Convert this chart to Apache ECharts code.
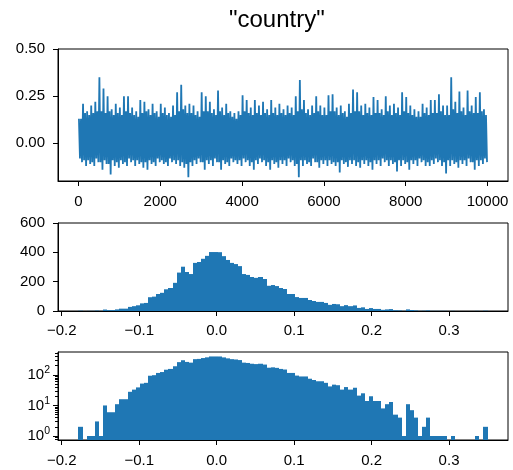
<!DOCTYPE html>
<html>
<head>
<meta charset="utf-8">
<script src="https://cdn.jsdelivr.net/npm/echarts@6/dist/echarts.min.js"></script>
<style>
  html, body { margin: 0; padding: 0; background: #fff; }
  #main { width: 513px; height: 470px; }
</style>
</head>
<body>
<div id="main"></div>
<script>
// trace: extreme and typical high / low draw in each block of 100 iterations
var traceHigh = [
  0.13, 0.21, 0.17, 0.20, 0.22, 0.35, 0.29, 0.25, 0.18, 0.21,
  0.19, 0.25, 0.25, 0.19, 0.17, 0.23, 0.22, 0.18, 0.21, 0.17,
  0.21, 0.19, 0.16, 0.20, 0.27, 0.31, 0.20, 0.21, 0.20, 0.17,
  0.27, 0.25, 0.22, 0.18, 0.28, 0.19, 0.21, 0.17, 0.16, 0.17,
  0.255, 0.23, 0.19, 0.23, 0.20, 0.22, 0.18, 0.23, 0.19, 0.21,
  0.18, 0.20, 0.19, 0.25, 0.335, 0.23, 0.18, 0.20, 0.25, 0.20,
  0.19, 0.255, 0.26, 0.19, 0.20, 0.17, 0.21, 0.285, 0.27, 0.20,
  0.21, 0.19, 0.245, 0.23, 0.18, 0.25, 0.20, 0.21, 0.19, 0.27,
  0.245, 0.20, 0.18, 0.17, 0.21, 0.19, 0.23, 0.23, 0.26, 0.20,
  0.20, 0.35, 0.22, 0.275, 0.19, 0.28, 0.20, 0.245, 0.27, 0.18
];
var traceLow = [
  -0.10, -0.12, -0.11, -0.12, -0.10, -0.14, -0.11, -0.165, -0.12, -0.13,
  -0.11, -0.12, -0.10, -0.12, -0.11, -0.13, -0.14, -0.11, -0.12, -0.10,
  -0.11, -0.12, -0.10, -0.11, -0.12, -0.13, -0.18, -0.12, -0.11, -0.10,
  -0.14, -0.11, -0.12, -0.10, -0.14, -0.11, -0.12, -0.10, -0.11, -0.12,
  -0.10, -0.12, -0.14, -0.11, -0.10, -0.12, -0.14, -0.11, -0.13, -0.11,
  -0.12, -0.10, -0.12, -0.18, -0.12, -0.11, -0.12, -0.10, -0.13, -0.11,
  -0.12, -0.11, -0.12, -0.155, -0.11, -0.125, -0.11, -0.12, -0.13, -0.11,
  -0.12, -0.14, -0.11, -0.12, -0.10, -0.12, -0.11, -0.15, -0.12, -0.11,
  -0.14, -0.11, -0.12, -0.10, -0.12, -0.12, -0.11, -0.10, -0.12, -0.16,
  -0.12, -0.11, -0.13, -0.11, -0.12, -0.10, -0.14, -0.12, -0.11, -0.10
];
var coreHigh = [
  0.13, 0.16, 0.15, 0.16, 0.17, 0.17, 0.16, 0.17, 0.15, 0.16,
  0.15, 0.17, 0.16, 0.15, 0.14, 0.16, 0.17, 0.15, 0.16, 0.14,
  0.16, 0.15, 0.14, 0.15, 0.17, 0.18, 0.16, 0.16, 0.15, 0.14,
  0.17, 0.17, 0.16, 0.15, 0.17, 0.15, 0.16, 0.14, 0.13, 0.15,
  0.17, 0.16, 0.15, 0.16, 0.15, 0.16, 0.15, 0.16, 0.15, 0.16,
  0.15, 0.16, 0.15, 0.17, 0.18, 0.16, 0.15, 0.16, 0.17, 0.15,
  0.15, 0.17, 0.17, 0.15, 0.16, 0.14, 0.16, 0.17, 0.17, 0.15,
  0.16, 0.15, 0.16, 0.16, 0.15, 0.17, 0.15, 0.16, 0.15, 0.17,
  0.16, 0.15, 0.14, 0.14, 0.16, 0.15, 0.16, 0.16, 0.17, 0.15,
  0.15, 0.18, 0.16, 0.17, 0.15, 0.17, 0.16, 0.16, 0.17, 0.15
];
var coreLow = [
  -0.08, -0.09, -0.09, -0.10, -0.08, -0.10, -0.09, -0.11, -0.09, -0.10,
  -0.09, -0.10, -0.08, -0.09, -0.09, -0.10, -0.10, -0.09, -0.10, -0.08,
  -0.09, -0.10, -0.08, -0.09, -0.09, -0.10, -0.11, -0.10, -0.09, -0.08,
  -0.10, -0.09, -0.09, -0.08, -0.10, -0.09, -0.10, -0.08, -0.09, -0.09,
  -0.08, -0.09, -0.10, -0.09, -0.08, -0.09, -0.10, -0.09, -0.10, -0.09,
  -0.09, -0.08, -0.09, -0.11, -0.09, -0.09, -0.10, -0.08, -0.10, -0.09,
  -0.09, -0.09, -0.10, -0.10, -0.09, -0.10, -0.09, -0.09, -0.10, -0.09,
  -0.09, -0.10, -0.09, -0.09, -0.08, -0.09, -0.09, -0.10, -0.09, -0.09,
  -0.10, -0.09, -0.09, -0.08, -0.09, -0.10, -0.09, -0.08, -0.09, -0.10,
  -0.09, -0.09, -0.10, -0.09, -0.09, -0.08, -0.10, -0.09, -0.09, -0.08
];
var blockSize = 100;
var iterTicks = [0, 2000, 4000, 6000, 8000, 10000];
var traceTicks = [0, 0.25, 0.5];

// histogram, 100 bins
var binStart = -0.1784;
var binWidth = 0.005281;
var binCounts = [
  2, 0, 1, 1, 3, 1, 10, 6, 6, 11,
  16, 16, 28, 33, 39, 52, 55, 94, 98, 116,
  124, 148, 157, 192, 262, 302, 266, 252, 328, 334,
  356, 376, 402, 402, 401, 374, 348, 328, 320, 306,
  252, 246, 232, 226, 232, 218, 172, 177, 170, 157,
  150, 116, 116, 95, 89, 89, 75, 68, 62, 62,
  55, 42, 48, 46, 33, 40, 33, 38, 21, 25,
  14, 20, 14, 14, 8, 11, 13, 5, 4, 1,
  11, 7, 4, 1, 2, 4, 1, 1, 1, 1,
  0, 1, 0, 0, 0, 0, 0, 1, 0, 2
];
var histTicks = [-0.2, -0.1, 0, 0.1, 0.2, 0.3];
var logTicks = [1, 10, 100];
var logMinorTicks = [0.8, 0.9, 2, 3, 4, 5, 6, 7, 8, 9, 20, 30, 40, 50, 60, 70, 80, 90, 200, 300, 400, 500];

var blue = '#1f77b4';
var font = 'Liberation Sans, Arial, sans-serif';

// four vertices per block so the line sweeps the band densely
var traceData = [];
traceHigh.forEach(function (h, i) {
  var x = i * blockSize;
  traceData.push([x + 12, h]);
  traceData.push([x + 37, coreLow[i]]);
  traceData.push([x + 62, coreHigh[i]]);
  traceData.push([x + 87, traceLow[i]]);
});

var histData = binCounts.map(function (c, i) {
  return [binStart + i * binWidth, binStart + (i + 1) * binWidth, c];
});
var histDataLog = histData.filter(function (d) { return d[2] > 0; });

function histBars(base) {
  return function (params, api) {
    var p0 = api.coord([api.value(0), api.value(2)]);
    var p1 = api.coord([api.value(1), base]);
    var x0 = Math.round(p0[0]), x1 = Math.round(p1[0]);
    return {
      type: 'rect',
      shape: { x: x0, y: p0[1], width: x1 - x0, height: p1[1] - p0[1] },
      style: { fill: blue }
    };
  };
}

function minusFmt(v) {
  return (v < -1e-9 ? '\u2212' : '') + Math.abs(v).toFixed(1);
}

var lbl = { color: '#000', fontSize: 15, fontFamily: font };
var axLine = { show: true, onZero: false, lineStyle: { color: '#000', width: 1 } };
var tick = { show: true, length: 5, lineStyle: { color: '#000', width: 1 } };
var gridBase = { show: true, borderColor: '#000', borderWidth: 1, left: 58, right: 5 };

var myChart = echarts.init(document.getElementById('main'));
var option = {
  animation: false,
  title: {
    text: '"country"',
    left: 224,
    top: 3,
    textStyle: { fontSize: 24, fontWeight: 'normal', color: '#000', fontFamily: font }
  },
  grid: [
    Object.assign({ top: 49, height: 132 }, gridBase),
    Object.assign({ top: 223, height: 88 }, gridBase),
    Object.assign({ top: 352, height: 88 }, gridBase)
  ],
  xAxis: [
    {
      gridIndex: 0, type: 'value', min: -500, max: 10500,
      axisLine: axLine, splitLine: { show: false },
      axisTick: Object.assign({ customValues: iterTicks }, tick),
      axisLabel: Object.assign({
        customValues: iterTicks, margin: 13,
        formatter: function (v) { return String(v); }
      }, lbl)
    },
    {
      gridIndex: 1, type: 'value', min: -0.2048, max: 0.3761,
      axisLine: axLine, splitLine: { show: false },
      axisTick: Object.assign({ customValues: histTicks }, tick),
      axisLabel: Object.assign({ customValues: histTicks, margin: 12, formatter: minusFmt }, lbl)
    },
    {
      gridIndex: 2, type: 'value', min: -0.2048, max: 0.3761,
      axisLine: axLine, splitLine: { show: false },
      axisTick: Object.assign({ customValues: histTicks }, tick),
      axisLabel: Object.assign({ customValues: histTicks, margin: 13, formatter: minusFmt }, lbl)
    }
  ],
  yAxis: [
    {
      gridIndex: 0, type: 'value', min: -0.2, max: 0.5,
      axisLine: axLine, splitLine: { show: false },
      axisTick: Object.assign({ customValues: traceTicks }, tick),
      axisLabel: Object.assign({
        customValues: traceTicks, margin: 13,
        formatter: function (v) { return v.toFixed(2); }
      }, lbl)
    },
    {
      gridIndex: 1, type: 'value', min: 0, max: 600, interval: 200,
      axisLine: axLine, splitLine: { show: false },
      axisTick: tick,
      axisLabel: Object.assign({ margin: 13 }, lbl)
    },
    {
      gridIndex: 2, type: 'log', logBase: 10, min: 0.74, max: 562, position: 'left',
      axisLine: axLine, splitLine: { show: false },
      axisTick: Object.assign({ customValues: logTicks }, tick),
      axisLabel: Object.assign({
        customValues: logTicks, margin: 8,
        formatter: function (v) { return '10{s|' + Math.round(Math.log10(v)) + '}'; },
        rich: { s: { fontSize: 10.5, fontFamily: font, color: '#000', padding: [0, 0, 9, 0] } }
      }, lbl)
    },
    {
      gridIndex: 2, type: 'log', logBase: 10, min: 0.74, max: 562, position: 'left',
      axisLine: { show: false, onZero: false }, splitLine: { show: false },
      axisTick: { show: true, customValues: logMinorTicks, length: 3, lineStyle: { color: '#000', width: 1 } },
      axisLabel: { show: false }
    }
  ],
  series: [
    {
      type: 'line', xAxisIndex: 0, yAxisIndex: 0,
      data: traceData, showSymbol: false, symbol: 'none',
      lineStyle: { color: blue, width: 1.8 }
    },
    {
      type: 'custom', xAxisIndex: 1, yAxisIndex: 1,
      renderItem: histBars(0), encode: { x: [0, 1], y: 2 },
      data: histData, clip: true
    },
    {
      type: 'custom', xAxisIndex: 2, yAxisIndex: 2,
      renderItem: histBars(0.74), encode: { x: [0, 1], y: 2 },
      data: histDataLog, clip: true
    }
  ]
};
option && myChart.setOption(option);
</script>
</body>
</html>
